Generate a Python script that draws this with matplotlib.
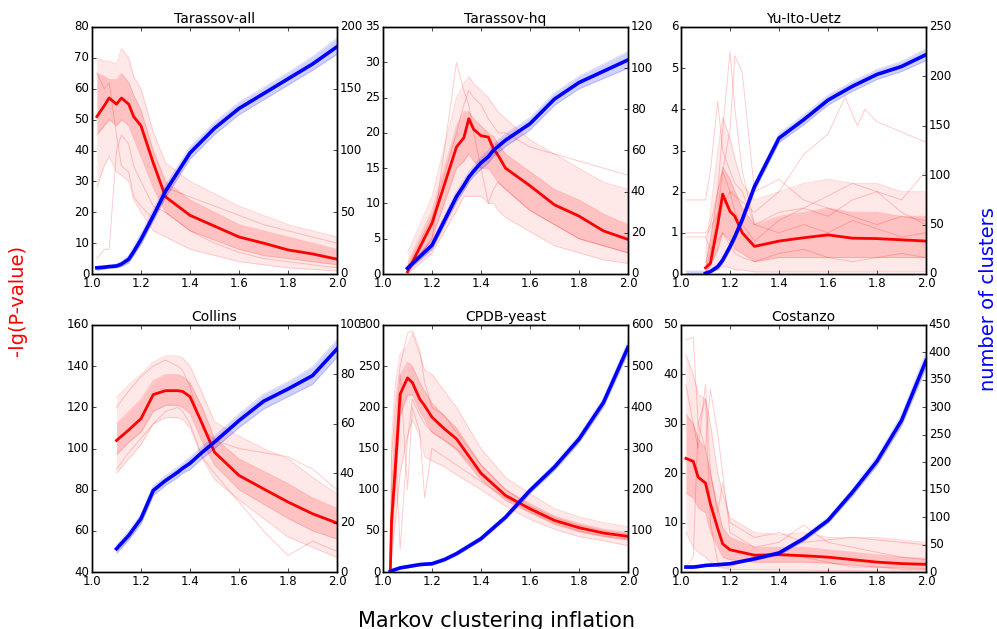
import numpy as np
import matplotlib
matplotlib.use('Agg')
import matplotlib.pyplot as plt

plt.style.use('classic')
plt.rcParams['font.family'] = ['DejaVu Sans']
plt.rcParams['xtick.major.size'] = 3
plt.rcParams['ytick.major.size'] = 3
plt.rcParams['xtick.minor.size'] = 0
plt.rcParams['ytick.minor.size'] = 0
plt.rcParams['xtick.labelsize'] = 8.5
plt.rcParams['ytick.labelsize'] = 8.5

nan = np.nan

titles = ['Tarassov-all', 'Tarassov-hq', 'Yu-Ito-Uetz', 'Collins', 'CPDB-yeast', 'Costanzo']

# ---------------- Tarassov-all ----------------
x1 = [1.02, 1.05, 1.07, 1.1, 1.12, 1.15, 1.17, 1.2, 1.25, 1.3, 1.4, 1.5, 1.6, 1.7, 1.8, 1.9, 2.0]
r_med1 = [51, 54.5, 57, 55, 57, 55, 51, 48, 36, 25, 19, 15.5, 12, 10, 7.8, 6.5, 4.8]
r_hi1 = [70, 69, 69, 68, 73, 70, 64, 60, 46, 36, 30, 26, 22, 19, 16, 14, 12]
r_lo1 = [28, 35, 38, 33, 32, 30, 24, 20, 14, 12, 8, 6, 4, 3, 2, 1.5, 1]
r_q3_1 = [65, 64, 63, 63, 65, 62, 58, 53, 40, 30, 24, 20, 16, 14, 12, 10, 8]
r_q1_1 = [45, 48, 50, 48, 50, 48, 44, 38, 28, 20, 14, 11, 8, 6, 5, 4, 3]
r_out1 = [[5, 8, 8, 40, 45, 42, 35, 30, 22, 20, 14, 10, 7, 5, 4, 3, 2],
          [65, 60, 62, 45, 35, 33, 25, 22, 18, 28, 25, 22, 19, 16, 14, 12, 10]]
b_med1 = [5, 5.5, 6, 6.5, 8, 12, 18, 28, 47, 67, 98, 118, 134, 146, 158, 170, 184]
b_hi1 = [6, 7, 7, 8, 10, 15, 22, 33, 52, 72, 103, 123, 139, 151, 163, 176, 191]
b_lo1 = [3, 4, 4.5, 5, 6, 9, 15, 24, 43, 62, 93, 113, 129, 141, 153, 165, 178]

# ---------------- Tarassov-hq ----------------
x2 = [1.1, 1.2, 1.3, 1.33, 1.35, 1.37, 1.4, 1.43, 1.45, 1.47, 1.5, 1.6, 1.7, 1.8, 1.9, 2.0]
r_med2 = [0.3, 7.2, 18, 19.3, 22, 20.5, 19.6, 19.4, 17.8, 16.8, 15, 12.5, 9.8, 8.2, 6.1, 4.9]
r_hi2 = [3, 11, 25, 27, 28, 27, 26, 25, 24, 23, 22, 19, 17, 15, 13, 12]
r_lo2 = [0, 3, 9, 11, 11, 11, 11, 10, 10, 9, 8, 6, 4, 3, 2, 1.5]
r_q3_2 = [1.5, 9, 21, 23, 23, 22, 21, 20, 19.5, 18.5, 17, 14.5, 12, 10.5, 8.5, 7]
r_q1_2 = [0.2, 5, 15, 16, 17, 16, 15, 15, 14, 13, 12, 9, 7, 5, 4, 3]
r_out2 = [[1, 8, 20, 24, 26, 25, 24, 22, 21, 20, 20, 18, 17, 16, 15, 14],
          [0.5, 5, 30, 26, 24, 20, 15, 10, 12, 13, 12, 9, 7, 5, 4, 3]]
b_med2 = [2.8, 14, 37.6, 43, 47, 50, 54, 57, 60, 62, 65, 73, 85, 93, 98.5, 104]
b_hi2 = [4, 16, 40, 45.5, 49.5, 52.5, 57, 60, 63, 65, 68, 76, 88, 96, 102, 108]
b_lo2 = [1.5, 12, 35, 40.5, 44.5, 47.5, 51, 54, 57, 59, 62, 70, 82, 90, 95, 100]

# ---------------- Yu-Ito-Uetz ----------------
x3 = [1.02, 1.05, 1.07, 1.1, 1.12, 1.15, 1.17, 1.2, 1.22, 1.25, 1.3, 1.4, 1.5, 1.6, 1.7, 1.8, 1.9, 2.0]
r_med3 = [nan, nan, nan, 0.15, 0.26, 1.2, 1.94, 1.52, 1.4, 1.0, 0.67, 0.8, 0.88, 0.95, 0.87, 0.86, 0.83, 0.8]
r_hi3 = [nan, nan, nan, 0.5, 1.5, 3.0, 3.8, 3.3, 2.8, 2.2, 1.8, 2.0, 2.2, 2.3, 2.2, 2.2, 2.0, 2.0]
r_lo3 = [nan, nan, nan, 0.02, 0.05, 0.1, 0.2, 0.15, 0.1, 0.1, 0.05, 0.05, 0.05, 0.05, 0.05, 0.05, 0.05, 0.05]
r_q3_3 = [nan, nan, nan, 0.3, 0.8, 2.0, 2.6, 2.3, 2.0, 1.6, 1.2, 1.4, 1.5, 1.6, 1.5, 1.5, 1.4, 1.4]
r_q1_3 = [nan, nan, nan, 0.05, 0.2, 0.6, 1.0, 0.8, 0.6, 0.5, 0.3, 0.4, 0.4, 0.4, 0.4, 0.4, 0.4, 0.4]
r_out3 = [[1.8, 1.8, 1.8, 1.8, 2.5, 4.2, 3.0, 2.5, 2.2, 2.0, 1.2, 1.5, 1.6, 1.4, 1.8, 2.0, 1.5, 1.2],
          [nan, nan, nan, 0.2, 0.8, 2.0, 3.5, 5.4, 4.0, 2.5, 1.2, 1.0, 1.2, 1.0, 1.3, 1.1, 0.9, 1.0],
          [nan, nan, nan, 0.1, 0.5, 1.5, 2.5, 3.5, 5.3, 4.9, 2.0, 2.3, 1.8, 1.6, 1.4, 1.2, 1.4, 1.3],
          [1.0, 1.0, 1.0, 1.0, 1.2, 2.0, 2.5, 2.0, 1.5, 1.2, 0.8, 1.3, 1.6, 1.9, 2.2, 2.0, 1.8, 2.5],
          [0.9, 0.9, 0.9, 0.9, 0.6, 0.8, 1.0, 0.7, 0.5, 0.4, 0.3, 0.5, 0.6, 0.4, 0.3, 0.4, 0.5, 0.4]]
r_late3_x = [1.1, 1.2, 1.3, 1.4, 1.5, 1.6, 1.67, 1.72, 1.75, 1.8, 2.0]
r_late3_y = [0.9, 2.0, 1.5, 2.0, 2.9, 3.4, 4.3, 3.6, 4.0, 3.7, 3.2]
b_med3 = [nan, nan, nan, 0.7, 2.4, 7.4, 14, 27.7, 38, 55, 88.5, 137.5, 156, 176, 190, 202, 210, 222]
b_hi3 = [3, 3, 3, 3, 4.5, 10, 17, 31, 42, 59, 93, 142, 161, 181, 195, 207, 215, 228]
b_lo3 = [0.5, 0.5, 0.5, 0.2, 1.0, 5, 11, 24, 34, 51, 84, 133, 151, 171, 185, 197, 205, 216]

# ---------------- Collins ----------------
x4 = [1.1, 1.15, 1.2, 1.25, 1.3, 1.35, 1.37, 1.4, 1.45, 1.5, 1.6, 1.7, 1.8, 1.9, 2.0]
r_med4 = [103.9, 109, 114.5, 126.2, 128.1, 128.1, 127.7, 125.2, 112, 98.2, 86.9, 80.4, 74, 68.3, 63.8]
r_hi4 = [125, 131, 136, 142, 145, 145, 144, 140, 127, 113, 106, 100, 95, 86, 78]
r_lo4 = [88, 95, 102, 112, 115, 115, 114, 110, 95, 85, 75, 66, 57, 52, 47]
r_q3_4 = [112, 118, 124, 133, 136, 136, 135, 132, 120, 105, 95, 89, 83, 76, 71]
r_q1_4 = [97, 103, 108, 118, 121, 121, 120, 117, 103, 92, 80, 73, 66, 60, 56]
r_out4 = [[120, 128, 135, 140, 143, 140, 138, 130, 110, 104, 100, 98, 96, 90, 80],
          [90, 98, 105, 112, 118, 120, 118, 112, 96, 88, 74, 60, 48, 55, 50]]
b_med4 = [9.4, 14.8, 21.6, 33, 37, 40.4, 42, 44, 48.5, 52.6, 61.3, 69.1, 74.1, 79.5, 90.3]
b_hi4 = [11, 16.5, 23.5, 35, 39, 42.5, 44, 46.5, 51, 55, 64, 72, 77, 83, 94]
b_lo4 = [7.5, 13, 19.5, 31, 35, 38.3, 40, 41.5, 46, 50, 58.5, 66, 71, 76, 87]

# ---------------- CPDB-yeast ----------------
x5 = [1.03, 1.035, 1.05, 1.07, 1.1, 1.12, 1.15, 1.17, 1.2, 1.25, 1.3, 1.4, 1.5, 1.6, 1.7, 1.8, 1.9, 2.0]
r_med5 = [2, 62, 125, 216, 235.7, 230, 210, 202, 188, 174, 161.7, 120, 93, 76.8, 62.7, 53.8, 47.3, 43.3]
r_hi5 = [20, 160, 230, 265, 275, 290, 265, 245, 240, 220, 200, 150, 115, 95, 77, 67, 60, 55]
r_lo5 = [0, 20, 60, 120, 165, 185, 165, 140, 135, 128, 118, 100, 80, 64, 52, 43, 38, 32]
r_q3_5 = [5, 90, 160, 240, 255, 250, 230, 220, 205, 190, 175, 130, 100, 83, 68, 59, 52, 48]
r_q1_5 = [0, 40, 100, 190, 215, 215, 195, 185, 170, 160, 148, 112, 87, 72, 58, 49, 43, 39]
r_out5 = [[0, 50, 150, 28, 160, 210, 190, 180, 170, 160, 150, 118, 92, 75, 62, 53, 47, 42],
          [0, 100, 180, 240, 100, 200, 170, 90, 150, 140, 130, 110, 90, 73, 60, 50, 44, 40],
          [0, 140, 200, 250, 290, 293, 270, 230, 200, 190, 170, 130, 100, 80, 66, 57, 50, 46]]
b_med5 = [1.6, 3, 6, 10, 13, 15, 18, 19, 20, 30, 44.5, 81, 133, 198, 255, 323, 412, 546]
b_hi5 = [3, 5, 8, 13, 16, 18, 21, 22, 24, 34, 49, 86, 139, 205, 263, 332, 423, 560]
b_lo5 = [0.5, 1, 4, 7, 10, 12, 15, 16, 17, 26, 40, 76, 127, 191, 247, 314, 401, 532]

# ---------------- Costanzo ----------------
x6 = [1.02, 1.05, 1.07, 1.1, 1.12, 1.15, 1.17, 1.2, 1.3, 1.4, 1.5, 1.6, 1.7, 1.8, 1.9, 2.0]
r_med6 = [23, 22.4, 19.2, 18, 13.8, 8.8, 5.7, 4.5, 3.4, 3.5, 3.3, 3.0, 2.5, 2.0, 1.7, 1.55]
r_hi6 = [44, 40, 36, 35, 30, 20, 16, 11, 8, 7.5, 8, 7, 7, 7, 6.5, 6]
r_lo6 = [8, 5, 4, 3, 2, 1, 0.8, 0.5, 0.5, 0.4, 0.4, 0.3, 0.3, 0.2, 0.2, 0.2]
r_q3_6 = [32, 30, 27, 25, 20, 13, 9, 7, 5, 5, 5, 4.5, 4, 3.5, 3, 2.8]
r_q1_6 = [16, 15, 13, 12, 8, 5, 3, 2.5, 2, 2, 2, 1.8, 1.4, 1, 0.8, 0.7]
r_out6 = [[47, 47.5, 30, 25, 37, 28, 20, 8, 5, 6, 9.5, 6, 5, 4, 3, 2.5],
          [1, 3, 30, 35, 10, 2, 1, 1, 3, 4, 3, 2, 1, 1, 0.5, 0.5],
          [38, 30, 25, 38, 20, 12, 18, 10, 7, 8, 6, 6.5, 7, 6.5, 6, 5.5]]
b_med6 = [9, 9, 10, 12, 12.5, 13.3, 14, 15, 24, 34.6, 60.6, 94, 145.5, 202, 276, 385]
b_hi6 = [11, 11, 12, 14, 14.5, 15.5, 16, 17.5, 27, 38, 65, 99, 152, 210, 286, 400]
b_lo6 = [7, 7, 8, 10, 10.5, 11, 12, 13, 21, 31, 56, 89, 139, 194, 266, 372]

left_lims = [(0, 80), (0, 35), (0, 6), (40, 160), (0, 300), (0, 50)]
left_steps = [10, 5, 1, 20, 50, 10]
right_lims = [(0, 200), (0, 120), (0, 250), (0, 100), (0, 600), (0, 450)]
right_steps = [50, 20, 50, 20, 100, 50]
x_ticks = [1.0, 1.2, 1.4, 1.6, 1.8, 2.0]

panels = [
    (x1, r_med1, r_hi1, r_lo1, r_q3_1, r_q1_1, r_out1, b_med1, b_hi1, b_lo1),
    (x2, r_med2, r_hi2, r_lo2, r_q3_2, r_q1_2, r_out2, b_med2, b_hi2, b_lo2),
    (x3, r_med3, r_hi3, r_lo3, r_q3_3, r_q1_3, r_out3, b_med3, b_hi3, b_lo3),
    (x4, r_med4, r_hi4, r_lo4, r_q3_4, r_q1_4, r_out4, b_med4, b_hi4, b_lo4),
    (x5, r_med5, r_hi5, r_lo5, r_q3_5, r_q1_5, r_out5, b_med5, b_hi5, b_lo5),
    (x6, r_med6, r_hi6, r_lo6, r_q3_6, r_q1_6, r_out6, b_med6, b_hi6, b_lo6),
]

fig = plt.figure(figsize=(9.97, 6.29), dpi=100, facecolor='white')

lefts = [92 / 997, 383 / 997, 681 / 997]
width = 245 / 997
bottoms = [1 - 274 / 629, 1 - 572 / 629]
height = 247 / 629

for i, (x, rmed, rhi, rlo, rq3, rq1, routs, bmed, bhi, blo) in enumerate(panels):
    row, col = divmod(i, 3)
    ax = fig.add_axes([lefts[col], bottoms[row], width, height])
    x = np.array(x, dtype=float)
    rhi_a = np.array(rhi, dtype=float)
    rlo_a = np.array(rlo, dtype=float)
    ax.fill_between(x, rlo_a, rhi_a, color='red', alpha=0.09, lw=0)
    ax.fill_between(x, np.array(rq1, dtype=float), np.array(rq3, dtype=float),
                    color='red', alpha=0.16, lw=0)
    for edge in (rhi_a, rlo_a, rq3, rq1):
        ax.plot(x, edge, color='red', alpha=0.15, lw=0.7)
    for o in routs:
        ax.plot(x, o, color='red', alpha=0.2, lw=0.7)
    if i == 2:
        ax.plot(r_late3_x, r_late3_y, color='red', alpha=0.2, lw=0.7)
    ax.plot(x, rmed, color='red', lw=2)
    ax.set_xlim(1.0, 2.0)
    ax.set_ylim(*left_lims[i])
    lo, hi = left_lims[i]
    ax.set_yticks(np.arange(lo, hi + 0.001, left_steps[i]))
    ax.set_xticks(x_ticks)
    ax.set_xticklabels(['%.1f' % t for t in x_ticks])
    ax.yaxis.set_major_formatter(matplotlib.ticker.FormatStrFormatter('%d'))
    ax.set_title(titles[i], fontsize=10, pad=3)
    ax.tick_params(axis='both', which='major', pad=2)

    ax2 = ax.twinx()
    bhi_a = np.array(bhi, dtype=float)
    blo_a = np.array(blo, dtype=float)
    ax2.fill_between(x, blo_a, bhi_a, color='blue', alpha=0.18, lw=0)
    ax2.plot(x, bhi_a, color='blue', alpha=0.15, lw=0.7)
    ax2.plot(x, blo_a, color='blue', alpha=0.15, lw=0.7)
    ax2.plot(x, bmed, color='blue', lw=2.6)
    ax2.set_xlim(1.0, 2.0)
    ax2.set_ylim(*right_lims[i])
    lo2, hi2 = right_lims[i]
    ax2.set_yticks(np.arange(lo2, hi2 + 0.001, right_steps[i]))
    ax2.yaxis.set_major_formatter(matplotlib.ticker.FormatStrFormatter('%d'))
    ax2.tick_params(axis='y', which='major', pad=2)

fig.text(18 / 997, 1 - 300 / 629, '-lg(P-value)', rotation=90, color='red',
         fontsize=14, ha='center', va='center')
fig.text(988 / 997, 1 - 299 / 629, 'number of clusters', rotation=90, color='blue',
         fontsize=14, ha='center', va='center')
fig.text(496 / 997, 2 / 629, 'Markov clustering inflation', color='black',
         fontsize=15, ha='center', va='baseline')

fig.savefig('out.png', dpi=100, facecolor='white')
